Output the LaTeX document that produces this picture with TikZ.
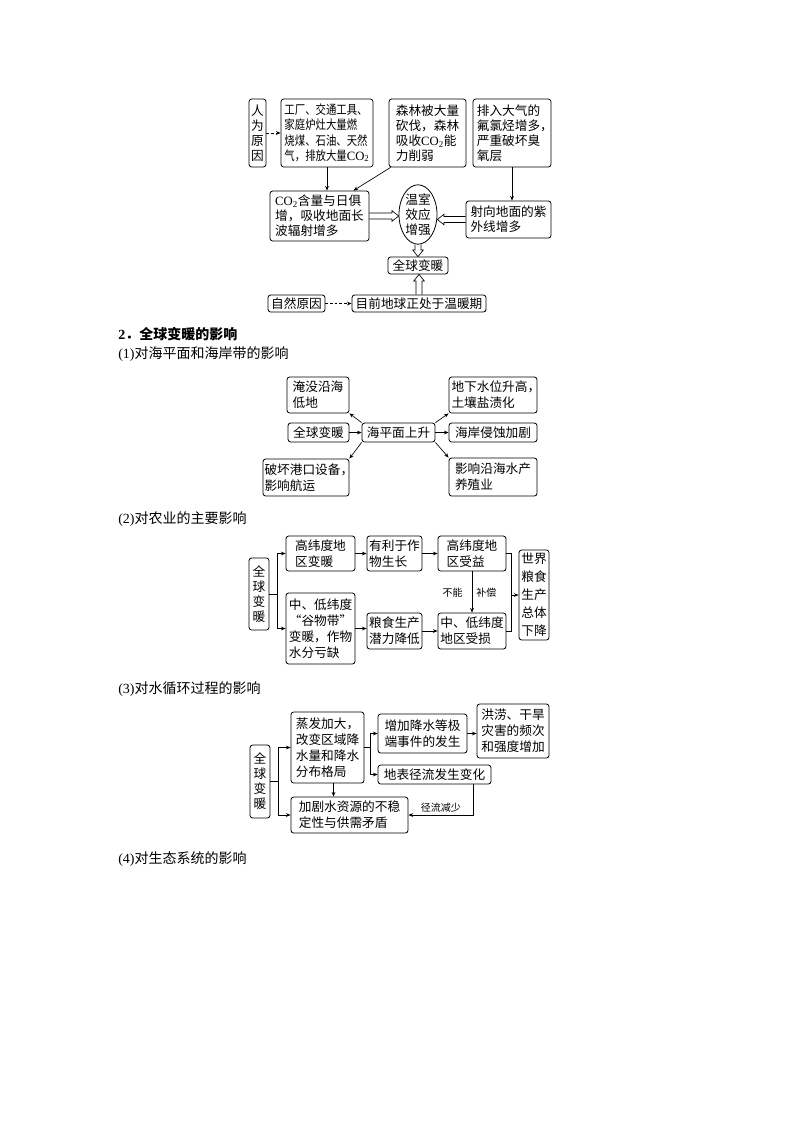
\documentclass[tikz,border=0pt]{standalone}
\usepackage{fontspec}
\setmainfont{Noto Sans CJK SC}
\newfontfamily\lat{Liberation Serif}
\newfontfamily\cjkn[FakeStretch=0.82]{Noto Sans CJK SC}
\usetikzlibrary{arrows.meta,shapes.geometric,calc}
\newcommand\COt{{\lat CO\textsubscript{2}}}
\newcommand\cm{\makebox[0.55em][l]{，}}
\newcommand\bx[7][box]{%
  \pgfmathsetmacro\bw{(#5-#3)*0.75}\pgfmathsetmacro\bh{(#6-#4)*0.75}%
  \node[#1,minimum width=\bw pt,minimum height=\bh pt] (#2) at ({(#3+#5)/2},{(#4+#6)/2}) {#7};}
\newcommand\hollowarrow[2]{%
  \path #1 coordinate (ha) #2 coordinate (hb);
  \path ($(hb)!5pt!(ha)$) coordinate (hh);
  \draw[hollow] ($(ha)!2.2pt!90:(hb)$) -- ($(hh)!2.2pt!90:(hb)$) -- ($(hh)!4pt!90:(hb)$) -- (hb)
     -- ($(hh)!4pt!-90:(hb)$) -- ($(hh)!2.2pt!-90:(hb)$) -- ($(ha)!2.2pt!-90:(hb)$);
}
\begin{document}
\begin{tikzpicture}[x=0.75pt,y=-0.75pt,
 box/.style={draw,rounded corners=2pt,inner sep=0pt,align=left,line width=0.6pt,font=\fontsize{9.5}{12}\selectfont},
 vbox/.style={box,align=center,font=\fontsize{9.5}{11.3}\selectfont},
 tbox/.style={box,font=\fontsize{9.5}{11.3}\selectfont},
 arr/.style={line width=0.5pt,-{Stealth[length=3.5pt,width=2.8pt]}},
 darr/.style={arr,dash pattern=on 2pt off 1.5pt},
 lnk/.style={line width=0.5pt},
 hollow/.style={line width=0.5pt},
 lab/.style={font=\fontsize{7.5}{9}\selectfont,inner sep=0pt},
 head/.style={anchor=west,inner sep=0pt,font=\fontsize{10.5}{12}\selectfont}]
\useasboundingbox (0,0) rectangle (800,1132);

% ---------- top diagram ----------
\bx[vbox]{n1}{249}{99}{266}{167}{人\\为\\原\\因}
\bx[tbox,font=\cjkn\fontsize{9.5}{11.3}\selectfont]{n2}{281}{99}{373}{167}{工厂、交通工具、\\家庭炉灶大量燃\\烧煤、石油、天然\\气，排放大量\COt}
\bx[tbox]{n3}{389}{99}{466}{167}{森林被大量\\砍伐，森林\\吸收\COt 能\\力削弱}
\bx[tbox]{n4}{473}{99}{551}{167}{排入大气的\\氟氯烃增多\cm\\严重破坏臭\\氧层}
\bx[tbox]{n5}{270}{191}{369}{241}{\COt 含量与日俱\\增，吸收地面长\\波辐射增多}
\node[draw,ellipse,line width=0.6pt,minimum width=28.5pt,minimum height=42.75pt,inner sep=0pt,align=center,font=\fontsize{9.5}{11.3}\selectfont] (n6) at (418,214.5) {温室\\效应\\增强};
\bx[tbox]{n7}{466}{201}{551}{238}{射向地面的紫\\外线增多}
\bx{n8}{388}{257}{448}{274}{全球变暖}
\bx{n9}{268}{295}{325}{312}{自然原因}
\bx{n10}{352}{295}{486}{312}{目前地球正处于温暖期}

\draw[darr] (n1) -- (n2);
\draw[arr] (n2.south) -- (n2.south |- n5.north);
\draw[arr] ($(n3.south west)+(2,0)$) -- ($(n5.north)!0.68!(n5.north east)$);
\draw[arr] (n4.south) -- (n4.south |- n7.north);
\hollowarrow{(n5.east)}{(n6.west |- n5.east)}
\hollowarrow{(n7.west)}{(n6.east |- n7.west)}
\hollowarrow{(n6.south)}{(n8.north)}
\hollowarrow{(n10.north)}{(n10.north |- n8.south)}
\draw[darr] (n9) -- (n10);

% ---------- headings ----------
\node[head,font=\bfseries\fontsize{10.5}{12}\selectfont] (h0) at (118,334) {{\lat 2}．全球变暖的影响};
\node[head] (h1) at (118,354) {{\lat (1)}对海平面和海岸带的影响};
\node[head] (h2) at (118,519) {{\lat (2)}对农业的主要影响};
\node[head] (h3) at (118,689) {{\lat (3)}对水循环过程的影响};
\node[head] (h4) at (118,859) {{\lat (4)}对生态系统的影响};

% ---------- (1) ----------
\bx{a1}{287}{377}{349}{413}{淹没沿海\\低地}
\bx{a2}{288}{423}{349}{442}{全球变暖}
\bx{a3}{362}{423}{435}{442}{海平面上升}
\bx{a4}{263}{459}{349}{496}{破坏港口设备\cm\\影响航运}
\bx{a5}{449}{377}{537}{413}{地下水位升高\cm\\土壤盐渍化}
\bx{a6}{449}{423}{537}{442}{海岸侵蚀加剧}
\bx{a7}{449}{458}{537}{496}{影响沿海水产\\养殖业}
\draw[arr] (a2) -- (a3);
\draw[arr] (a3.north west) -- (a1.south east);
\draw[arr] (a3.south west) -- (a4.north east);
\draw[arr] (a3.north east) -- (a5.south west);
\draw[arr] (a3) -- (a6);
\draw[arr] (a3.south east) -- (a7.north west);

% ---------- (2) ----------
\bx[vbox]{b1}{249}{558}{269}{630}{全\\球\\变\\暖}
\bx{b2}{286}{536}{355}{571}{高纬度地\\区变暖}
\bx{b3}{286}{593}{355}{664}{中、低纬度\\“谷物带”\\变暖，作物\\水分亏缺}
\bx{b4}{367}{536}{422}{571}{有利于作\\物生长}
\bx{b5}{438}{536}{506}{571}{高纬度地\\区受益}
\bx{b6}{367}{613}{422}{649}{粮食生产\\潜力降低}
\bx{b7}{438}{613}{506}{649}{中、低纬度\\地区受损}
\bx[box,align=center,font=\fontsize{9.5}{13.5}\selectfont]{b8}{519}{550}{549}{640}{世界\\粮食\\生产\\总体\\下降}
\draw[arr] (b1.east) -- ++(8,0) |- (b2.west);
\draw[arr] (b1.east) -- ++(8,0) |- (b3.west);
\draw[arr] (b2) -- (b4);
\draw[arr] (b4) -- (b5);
\draw[arr] (b3.east) -- (b3.east -| b6.west);
\draw[arr] (b6) -- (b7);
\draw[arr] (b5) -- (b7);
\node[lab,anchor=east] (l1) at (463,593) {不能};
\node[lab,anchor=west] (l2) at (476,593) {补偿};
\draw[lnk] (b5.east) -- ++(5,0) coordinate (bt) -- (bt |- b7.east) -- (b7.east);
\draw[arr] (bt |- b8.west) -- (b8.west);

% ---------- (3) ----------
\bx[vbox]{c1}{250}{745}{270}{818}{全\\球\\变\\暖}
\bx{c2}{291}{712}{364}{783}{蒸发加大，\\改变区域降\\水量和降水\\分布格局}
\bx{c3}{291}{797}{408}{833}{加剧水资源的不稳\\定性与供需矛盾}
\bx{c4}{378}{714}{467}{753}{增加降水等极\\端事件的发生}
\bx{c5}{378}{765}{491}{784}{地表径流发生变化}
\bx{c6}{477}{704}{549}{758}{洪涝、干旱\\灾害的频次\\和强度增加}
\draw[arr] (c1.east) -- ++(8,0) |- (c2.west);
\draw[arr] (c1.east) -- ++(8,0) |- (c3.west);
\path ($(c2.south)+(6,0)$) coordinate (c2s);
\draw[arr] (c2s) -- (c2s |- c3.north);
\draw[arr] (c2.east) -- ++(6,0) |- (c4.west);
\draw[arr] (c2.east) -- ++(6,0) |- (c5.west);
\draw[arr] (c4.east) -- (c4.east -| c6.west);
\path ($(c5.south east)+(-18,0)$) coordinate (c5s);
\draw[arr] (c5s) |- (c3.east) node[lab,pos=0.75,above=2pt] (l3) {径流减少};
\end{tikzpicture}
\end{document}
